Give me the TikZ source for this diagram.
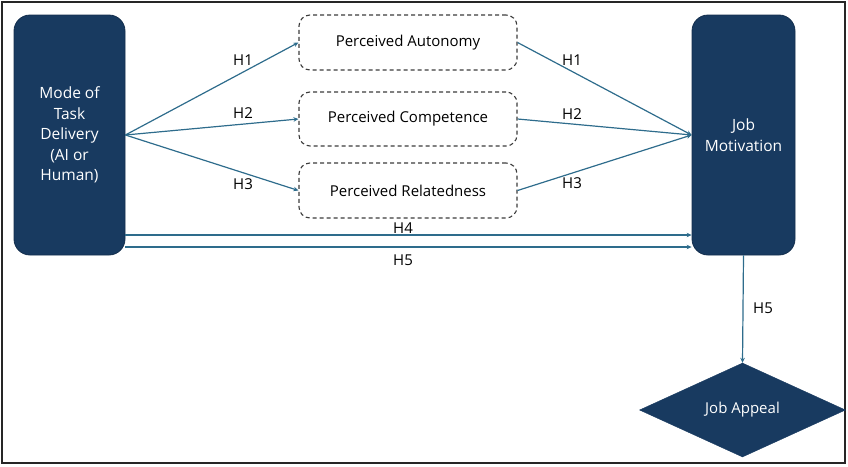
\documentclass[tikz,border=0pt]{standalone}
\usepackage{fontspec}
\setmainfont{Open Sans}
\usetikzlibrary{shapes.geometric,arrows.meta}
\definecolor{navy}{RGB}{24,58,96}
\definecolor{arrowc}{RGB}{46,108,140}
\definecolor{dashc}{RGB}{60,60,60}
\tikzset{
  darkbox/.style={draw=navy!80!black, fill=navy, rounded corners=16pt, text=white, align=center, inner sep=0pt, font=\fontsize{15.5}{20.5}\selectfont, line width=0.8pt},
  dashbox/.style={draw=dashc, dashed, dash pattern=on 4pt off 3pt, rounded corners=11pt, line width=1.1pt, minimum width=218pt, font=\fontsize{15}{18}\selectfont, inner sep=0pt},
  link/.style={draw=arrowc, line width=1.2pt, -{Stealth[length=5pt,width=4.5pt]}},
  hlabel/.style={font=\fontsize{15}{18}\selectfont, inner sep=0pt}
}
\begin{document}
\begin{tikzpicture}[x=1pt,y=-1pt]
\useasboundingbox (0,0) rectangle (848,466);
\draw[line width=1.6pt, black!85] (2,2) rectangle (845,463);
\node[darkbox, minimum width=111pt, minimum height=240pt] (L) at (69.5,135) {Mode of\\Task\\Delivery\\(AI or\\Human)};
\node[darkbox, minimum width=103pt, minimum height=240pt] (R) at (743.5,135) {Job\\Motivation};
\node[dashbox, minimum height=55pt] (A) at (408,42.5) {Perceived Autonomy};
\node[dashbox, minimum height=54pt] (C) at (408,119) {Perceived Competence};
\node[dashbox, minimum height=55pt] (Re) at (408,190.5) {Perceived Relatedness};
\node[diamond, fill=navy, draw=navy, minimum width=206pt, minimum height=94pt, aspect=2.19, inner sep=0pt, text=white, font=\fontsize{15}{18}\selectfont] (D) at (742.5,410) {Job Appeal};
\draw[link] (L.east) -- (A.west);
\draw[link] (L.east) -- (C.west);
\draw[link] (L.east) -- (Re.west);
\draw[link] (A.east) -- (R.west);
\draw[link] (C.east) -- (R.west);
\draw[link] (Re.east) -- (R.west);
\draw[link] ([yshift=-100pt]L.east) -- ([yshift=-100pt]R.west);
\draw[link] ([yshift=-112pt]L.east) -- ([yshift=-112pt]R.west);
\draw[link] (R.south) -- (D.north);
\node[hlabel] (l1) at (243,60) {H1};
\node[hlabel] (l2) at (243,113) {H2};
\node[hlabel] (l3) at (243,184) {H3};
\node[hlabel] (r1) at (572,60) {H1};
\node[hlabel] (r2) at (572,114) {H2};
\node[hlabel] (r3) at (572,183) {H3};
\node[hlabel] (h4) at (403,228) {H4};
\node[hlabel] (h5) at (403,260) {H5};
\node[hlabel] (h5v) at (763,308) {H5};
\end{tikzpicture}
\end{document}
